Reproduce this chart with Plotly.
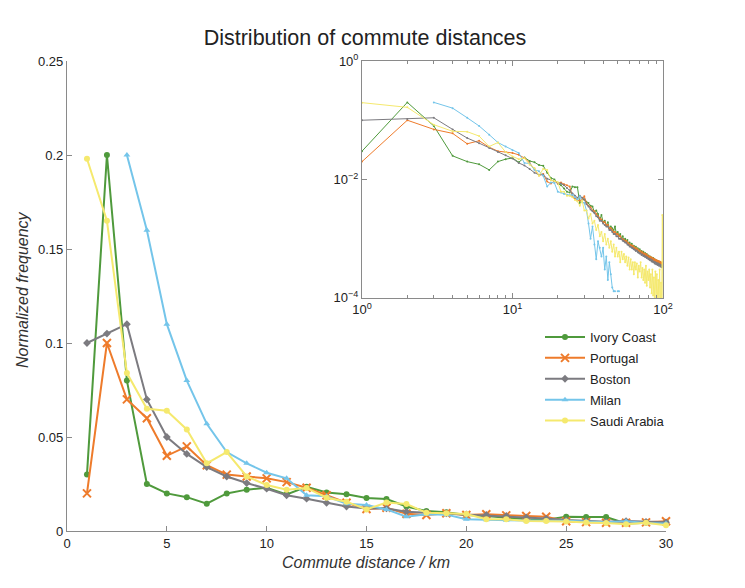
import plotly.graph_objects as go

# ---------------- data ----------------
distance_km = list(range(1, 101))

ivory_coast = [0.030, 0.200, 0.080, 0.025, 0.020, 0.018, 0.0145, 0.020, 0.022, 0.023,
               0.0195, 0.0235, 0.0205, 0.0195, 0.0175, 0.017, 0.013, 0.0106, 0.0100, 0.0085,
               0.0080, 0.0070, 0.0062, 0.0060, 0.0076, 0.0074, 0.0074, 0.0040, 0.0045, 0.0046,
               0.0042, 0.0040, 0.0036, 0.0035, 0.0028, 0.0030, 0.0026, 0.0021, 0.0025, 0.0019,
               0.0020, 0.0017, 0.0019, 0.0015, 0.0016, 0.0015, 0.0014, 0.0016, 0.0012, 0.0013,
               0.0011, 0.0012, 0.0010, 0.0011, 0.00092, 0.0010, 0.00088, 0.00095, 0.00080, 0.00086,
               0.00078, 0.00082, 0.00072, 0.00076, 0.00068, 0.00073, 0.00064, 0.00069, 0.00060, 0.00066,
               0.00058, 0.00062, 0.00055, 0.00060, 0.00052, 0.00057, 0.00050, 0.00055, 0.00048, 0.00052,
               0.00046, 0.00050, 0.00044, 0.00048, 0.00042, 0.00047, 0.00041, 0.00045, 0.00040, 0.00043,
               0.00039, 0.00042, 0.00038, 0.00041, 0.00037, 0.00040, 0.00036, 0.00039, 0.00035, 0.00038]

portugal = [0.020, 0.100, 0.070, 0.060, 0.040, 0.045, 0.035, 0.030, 0.029, 0.028,
            0.026, 0.023, 0.019, 0.0150, 0.0117, 0.0124, 0.0092, 0.0085, 0.0094, 0.0085,
            0.0089, 0.0083, 0.0080, 0.0076, 0.0052, 0.0047, 0.0044, 0.0044, 0.0046, 0.0052,
            0.0040, 0.0036, 0.0034, 0.0030, 0.0029, 0.0026, 0.0024, 0.0022, 0.0021, 0.0019,
            0.0019, 0.0017, 0.0017, 0.0015, 0.0015, 0.0014, 0.0013, 0.0013, 0.0012, 0.0012,
            0.0011, 0.0011, 0.0010, 0.00098, 0.00095, 0.00090, 0.00092, 0.00085, 0.00083, 0.00080,
            0.00078, 0.00075, 0.00076, 0.00070, 0.00071, 0.00066, 0.00068, 0.00063, 0.00064, 0.00060,
            0.00061, 0.00057, 0.00059, 0.00055, 0.00056, 0.00053, 0.00055, 0.00050, 0.00052, 0.00049,
            0.00050, 0.00046, 0.00049, 0.00045, 0.00047, 0.00043, 0.00046, 0.00042, 0.00044, 0.00041,
            0.00043, 0.00040, 0.00042, 0.00039, 0.00041, 0.00038, 0.00040, 0.00037, 0.00039, 0.00041]

boston = [0.100, 0.105, 0.110, 0.070, 0.050, 0.041, 0.034, 0.029, 0.0255, 0.0225,
          0.019, 0.0172, 0.015, 0.013, 0.012, 0.012, 0.0103, 0.0098, 0.0094, 0.0088,
          0.0085, 0.0080, 0.0072, 0.0066, 0.0058, 0.0053, 0.0049, 0.0053, 0.0049, 0.0046,
          0.0038, 0.0035, 0.0031, 0.0029, 0.0027, 0.0024, 0.0023, 0.0020, 0.0020, 0.0018,
          0.0017, 0.0016, 0.0016, 0.0014, 0.0014, 0.0013, 0.0012, 0.0012, 0.0011, 0.0011,
          0.0010, 0.0010, 0.00098, 0.00092, 0.00090, 0.00086, 0.00085, 0.00080, 0.00078, 0.00074,
          0.00073, 0.00070, 0.00069, 0.00066, 0.00065, 0.00062, 0.00063, 0.00059, 0.00058, 0.00056,
          0.00056, 0.00053, 0.00054, 0.00051, 0.00052, 0.00049, 0.00050, 0.00047, 0.00048, 0.00045,
          0.00046, 0.00043, 0.00045, 0.00041, 0.00043, 0.00040, 0.00041, 0.00038, 0.00040, 0.00037,
          0.00039, 0.00036, 0.00038, 0.00035, 0.00037, 0.00034, 0.00036, 0.00033, 0.00035, 0.00034]

milan = [None, None, 0.200, 0.160, 0.110, 0.080, 0.057, 0.042, 0.036, 0.031,
         0.028, 0.019, 0.0185, 0.0145, 0.0138, 0.0115, 0.0076, 0.0089, 0.0087, 0.0062,
         0.0060, 0.0057, 0.0055, 0.0054, 0.0055, 0.0050, 0.0046, 0.0052, 0.0042, 0.0040,
         0.0030, 0.0018, 0.0010, 0.0016, 0.0008, 0.00045, 0.0009, 0.0007, 0.0005, 0.0007,
         0.0003, 0.0005, 0.0002, 0.0004, 0.00025, 0.00015, 0.00013, 0.00013, None, 0.00013,
         0.00013] + [None] * 49

saudi_arabia = [0.198, 0.165, 0.084, 0.065, 0.064, 0.054, 0.036, 0.042, 0.029, 0.0245,
                0.022, 0.0229, 0.0177, 0.0156, 0.0115, 0.0151, 0.0144, 0.0097, 0.0094, 0.0090,
                0.0062, 0.0062, 0.0053, 0.0053, 0.0050, 0.0045, 0.0043, 0.0036, 0.0044, 0.0030,
                0.0030, 0.0022, 0.0026, 0.0018, 0.0020, 0.0014, 0.0017, 0.0011, 0.0013, 0.0009,
                0.0012, 0.0008, 0.0010, 0.0007, 0.0009, 0.0006, 0.0008, 0.0005, 0.0007, 0.0005,
                0.0006, 0.0004, 0.0006, 0.00045, 0.00055, 0.0004, 0.0005, 0.00035, 0.00048, 0.0003,
                0.00045, 0.0003, 0.0004, 0.00025, 0.0004, 0.0003, 0.00038, 0.00022, 0.00035, 0.00028,
                0.0004, 0.00022, 0.00032, 0.0002, 0.0003, 0.00018, 0.00035, 0.00016, 0.00028, 0.0002,
                0.0003, 0.00015, 0.00025, 0.00012, 0.0003, 0.00011, 0.00022, 0.0001, 0.00028, 0.00009,
                0.00025, 0.00008, 0.0002, 0.00009, 0.0003, 0.00007, 0.00018, 0.00006, 0.0025, 0.00008]

series_names = ["Ivory Coast", "Portugal", "Boston", "Milan", "Saudi Arabia"]
series_values = [ivory_coast, portugal, boston, milan, saudi_arabia]
series_colors = ["#4f9a3c", "#ee7b2b", "#7c7b80", "#74c5ea", "#f5e96e"]
series_symbols = ["circle", "x-thin-open", "diamond", "triangle-up", "circle"]

main_x_ticks = [0, 5, 10, 15, 20, 25, 30]
main_y_ticks = [0, 0.05, 0.1, 0.15, 0.2, 0.25]
main_y_labels = ["0", "0.05", "0.1", "0.15", "0.2", "0.25"]
inset_x_ticks = [1, 10, 100]
inset_x_labels = ["10<sup>0</sup>", "10<sup>1</sup>", "10<sup>2</sup>"]
inset_y_ticks = [1e-4, 1e-2, 1]
inset_y_labels = ["10<sup>−4</sup>", "10<sup>−2</sup>", "10<sup>0</sup>"]
inset_minor = [2, 3, 4, 5, 6, 7, 8, 9, 20, 30, 40, 50, 60, 70, 80, 90]

MAIN_N = 30
FONT = "Liberation Sans, Arial, sans-serif"
AXIS_COL = "#8a8a8a"

# page body has an 8px margin; compensate so the plot lands where the reference has it
OFF = 8
W, H = 745 - OFF, 588 - OFF
ML, MT = 67 - OFF, 61 - OFF
PW, PH = 599, 470

fig = go.Figure()

for name, vals, col, sym in zip(series_names, series_values, series_colors, series_symbols):
    is_x = sym.startswith("x")
    fig.add_trace(go.Scatter(
        x=distance_km[:MAIN_N], y=vals[:MAIN_N], name=name, mode="lines+markers",
        line=dict(color=col, width=2),
        marker=dict(symbol=sym, size=8 if is_x else 6, color=col,
                    line=dict(color=col, width=2 if is_x else 0)),
        cliponaxis=False, xaxis="x", yaxis="y", legendgroup=name))

for name, vals, col, sym in zip(series_names, series_values, series_colors, series_symbols):
    fig.add_trace(go.Scatter(
        x=distance_km, y=vals, name=name, mode="lines+markers", showlegend=False,
        line=dict(color=col, width=1),
        marker=dict(symbol="circle", size=2, color=col),
        connectgaps=False, xaxis="x2", yaxis="y2", legendgroup=name))

fig.update_layout(
    width=W, height=H,
    margin=dict(l=ML, r=W - ML - PW, t=MT, b=H - MT - PH, autoexpand=False),
    paper_bgcolor="white", plot_bgcolor="white",
    font=dict(family=FONT, size=13, color="#222"),
    title=dict(text="Distribution of commute distances", x=(365 - OFF) / W, xanchor="center",
               y=1 - (37 - OFF) / H, yanchor="middle", yref="container",
               font=dict(size=21.5, color="#222", family=FONT)),
    showlegend=True,
    legend=dict(x=(540 - 67) / PW, y=(531 - 322) / PH, xanchor="left", yanchor="top",
                bgcolor="rgba(255,255,255,0)", itemwidth=40,
                font=dict(size=13, color="#222"), tracegroupgap=1, traceorder="grouped"),
    xaxis=dict(domain=[0, 1], range=[0, 30], tickvals=main_x_ticks, ticks="inside", ticklen=5,
               tickcolor=AXIS_COL, showline=True, linecolor=AXIS_COL, linewidth=1.2,
               showgrid=False, zeroline=False, tickfont=dict(size=13)),
    yaxis=dict(domain=[0, 1], range=[0, 0.25], tickvals=main_y_ticks, ticktext=main_y_labels,
               ticks="inside", ticklen=5, tickcolor=AXIS_COL, showline=True, linecolor=AXIS_COL,
               linewidth=1.2, showgrid=False, zeroline=False, tickfont=dict(size=13)),
    xaxis2=dict(domain=[0.4925, 0.995], anchor="y2", type="log", range=[0, 2],
                tickvals=inset_x_ticks, ticktext=inset_x_labels, ticks="inside", ticklen=5,
                tickcolor=AXIS_COL, showline=True, linecolor=AXIS_COL, linewidth=1, mirror="ticks",
                showgrid=False, zeroline=False, tickfont=dict(size=13),
                minor=dict(tickvals=inset_minor, ticks="inside", ticklen=3, tickcolor=AXIS_COL,
                           showgrid=False)),
    yaxis2=dict(domain=[0.496, 1.0], anchor="x2", type="log", range=[-4, 0],
                tickvals=inset_y_ticks, ticktext=inset_y_labels, ticks="inside", ticklen=5,
                tickcolor=AXIS_COL, showline=True, linecolor=AXIS_COL, linewidth=1, mirror="ticks",
                showgrid=False, zeroline=False, tickfont=dict(size=13)),
    annotations=[
        dict(text="<i>Commute distance / km</i>", xref="paper", yref="paper",
             x=(366 - 67) / PW, y=-(562 - 531) / PH, xanchor="center", yanchor="middle",
             showarrow=False, font=dict(size=16, color="#333")),
        dict(text="<i>Normalized frequency</i>", xref="paper", yref="paper",
             x=-(67 - 22) / PW, y=(531 - 290) / PH, xanchor="center", yanchor="middle",
             textangle=-90, showarrow=False, font=dict(size=16, color="#333")),
    ],
)

fig.write_html("out.html")
